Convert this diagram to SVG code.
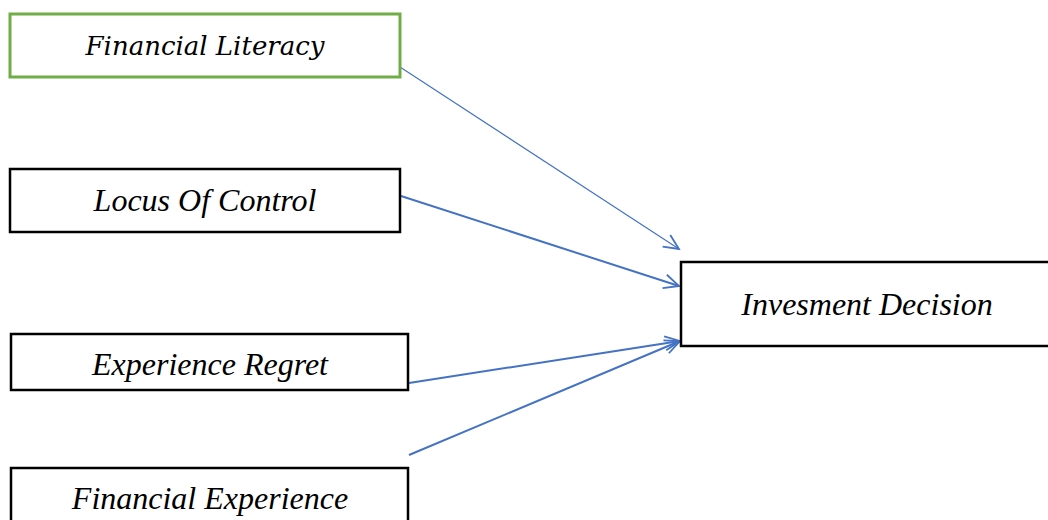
<svg xmlns="http://www.w3.org/2000/svg" width="1048" height="520" viewBox="0 0 1048 520">
<style>
.box{fill:#fff;stroke:#000;stroke-width:2.5}
.green{stroke:#70AD47;stroke-width:3}
.t{font-family:"Liberation Serif",serif;font-style:italic;font-size:32px;fill:#000;text-anchor:middle}
.tc{font-family:"DejaVu Serif",serif;font-style:italic;font-size:26px;fill:#000;text-anchor:middle}
.c{fill:none;stroke:#4472C4}
</style>
<defs>
<marker id="ah" markerUnits="userSpaceOnUse" viewBox="-16 -10 18 20" markerWidth="18" markerHeight="20" refX="0" refY="0" orient="auto">
<path d="M-15,-7 L0,0 L-15,7" fill="none" stroke="#4472C4" stroke-width="1.8"/>
</marker>
</defs>
<rect width="1048" height="520" fill="#fff"/>
<g id="connectors">
<line class="c" x1="400" y1="67" x2="679" y2="249" stroke-width="1.2" marker-end="url(#ah)"/>
<line class="c" x1="401" y1="196" x2="679" y2="286" stroke-width="2" marker-end="url(#ah)"/>
<line class="c" x1="409" y1="383" x2="680" y2="341" stroke-width="2" marker-end="url(#ah)"/>
<line class="c" x1="409" y1="455" x2="680" y2="341" stroke-width="2" marker-end="url(#ah)"/>
</g>
<g id="n-financial-literacy">
<rect class="box green" x="10" y="14" width="390" height="63"/>
<text class="tc" x="205" y="55">Financial Literacy</text>
</g>
<g id="n-locus-of-control">
<rect class="box" x="10" y="169" width="390" height="63"/>
<text class="t" x="205" y="211">Locus Of Control</text>
</g>
<g id="n-experience-regret">
<rect class="box" x="11" y="334" width="397" height="56"/>
<text class="t" x="210" y="375">Experience Regret</text>
</g>
<g id="n-financial-experience">
<rect class="box" x="11" y="468" width="397" height="60"/>
<text class="t" x="210" y="509">Financial Experience</text>
</g>
<g id="n-investment-decision">
<rect class="box" x="681" y="262" width="375" height="84"/>
<text class="t" x="867" y="315">Invesment Decision</text>
</g>
</svg>
